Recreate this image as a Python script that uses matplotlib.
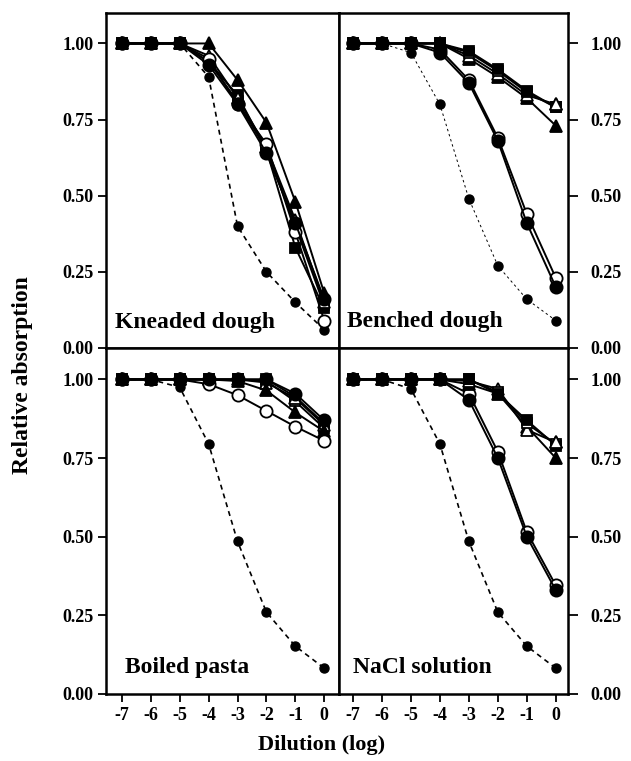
import matplotlib
matplotlib.use('Agg')
import matplotlib.pyplot as plt

plt.rcParams['font.family'] = ['Liberation Serif', 'DejaVu Serif']
plt.rcParams['font.weight'] = 'bold'

dilution = [-7, -6, -5, -4, -3, -2, -1, 0]
yticks = [0.0, 0.25, 0.5, 0.75, 1.0]
panel_titles = ["Kneaded dough", "Benched dough", "Boiled pasta", "NaCl solution"]

# Kneaded dough
kneaded_fc = [1, 1, 1, 0.93, 0.80, 0.64, 0.41, 0.16]
kneaded_oc = [1, 1, 1, 0.95, 0.80, 0.67, 0.38, 0.09]
kneaded_ft = [1, 1, 1, 1.00, 0.88, 0.74, 0.48, 0.18]
kneaded_ot = [1, 1, 1, 0.96, 0.82, 0.66, 0.42, 0.15]
kneaded_fs = [1, 1, 1, 0.94, 0.83, 0.65, 0.33, 0.13]
kneaded_os = [1, 1, 1, 0.94, 0.81, 0.65, 0.40, 0.14]
kneaded_ctrl = [1, 1, 1, 0.89, 0.40, 0.25, 0.15, 0.06]

# Benched dough
benched_fc = [1, 1, 1, 0.97, 0.87, 0.68, 0.41, 0.20]
benched_oc = [1, 1, 1, 0.98, 0.88, 0.69, 0.44, 0.23]
benched_ft = [1, 1, 1, 1.00, 0.95, 0.89, 0.82, 0.73]
benched_ot = [1, 1, 1, 1.00, 0.96, 0.90, 0.83, 0.80]
benched_fs = [1, 1, 1, 1.00, 0.975, 0.915, 0.845, 0.79]
benched_os = [1, 1, 1, 1.00, 0.97, 0.91, 0.84, 0.79]
benched_ctrl = [1, 1, 0.97, 0.80, 0.49, 0.27, 0.16, 0.09]

# Boiled pasta
boiled_fc = [1, 1, 1, 1, 1, 1, 0.955, 0.87]
boiled_oc = [1, 1, 1, 0.985, 0.95, 0.90, 0.85, 0.805]
boiled_ft = [1, 1, 1, 1, 0.995, 0.965, 0.895, 0.835]
boiled_ot = [1, 1, 1, 1, 1, 0.99, 0.94, 0.855]
boiled_fs = [1, 1, 1, 1, 1, 1, 0.945, 0.86]
boiled_os = [1, 1, 1, 1, 1, 0.995, 0.93, 0.845]
boiled_ctrl = [1, 1, 0.975, 0.795, 0.485, 0.26, 0.152, 0.082]

# NaCl solution
nacl_fc = [1, 1, 1, 1, 0.935, 0.75, 0.50, 0.33]
nacl_oc = [1, 1, 1, 1, 0.955, 0.77, 0.515, 0.345]
nacl_ft = [1, 1, 1, 1, 0.985, 0.955, 0.85, 0.75]
nacl_ot = [1, 1, 1, 1, 0.995, 0.97, 0.84, 0.80]
nacl_fs = [1, 1, 1, 1, 1.00, 0.955, 0.87, 0.79]
nacl_os = [1, 1, 1, 1, 1.00, 0.96, 0.86, 0.795]
nacl_ctrl = [1, 1, 0.97, 0.795, 0.485, 0.26, 0.152, 0.082]

panel_data = [
    (kneaded_fc, kneaded_oc, kneaded_ft, kneaded_ot, kneaded_fs, kneaded_os, kneaded_ctrl),
    (benched_fc, benched_oc, benched_ft, benched_ot, benched_fs, benched_os, benched_ctrl),
    (boiled_fc, boiled_oc, boiled_ft, boiled_ot, boiled_fs, boiled_os, boiled_ctrl),
    (nacl_fc, nacl_oc, nacl_ft, nacl_ot, nacl_fs, nacl_os, nacl_ctrl),
]

fig = plt.figure(figsize=(6.31, 7.61), dpi=100)

L, M, R = 106/631, 339/631, 568/631
T, MY, B = 1 - 13/761, 1 - 348/761, 1 - 694/761
rects = [
    [L, MY, M - L, T - MY],
    [M, MY, R - M, T - MY],
    [L, B, M - L, MY - B],
    [M, B, R - M, MY - B],
]
xlims = [(-7.55, 0.51), (-7.48, 0.42), (-7.55, 0.51), (-7.48, 0.42)]
text_pos = [(0.04, 0.06), (0.034, 0.064), (0.082, 0.061), (0.061, 0.06)]

for i, rect in enumerate(rects):
    ax = fig.add_axes(rect)
    fc, oc, ft, ot, fs, os_, ctrl = panel_data[i]
    ax.plot(dilution, ctrl, color='black',
            ls=(0, (3, 2.5)) if i != 1 else (0, (2.5, 3)),
            lw=1.2 if i != 1 else 0.7, marker='o', ms=6.5,
            mfc='black', mec='black', zorder=2)
    if i % 2 == 0:
        series = [
            (os_, 's', 'white'),
            (fs, 's', 'black'),
            (ot, '^', 'white'),
            (ft, '^', 'black'),
            (oc, 'o', 'white'),
            (fc, 'o', 'black'),
        ]
    else:
        series = [
            (oc, 'o', 'white'),
            (fc, 'o', 'black'),
            (ft, '^', 'black'),
            (ot, '^', 'white'),
            (os_, 's', 'white'),
            (fs, 's', 'black'),
        ]
    for vals, mk, face in series:
        size = 7.8 if mk == 's' else 8.8
        ax.plot(dilution, vals, color='black', lw=1.4, marker=mk, ms=size,
                mfc=face, mec='black', mew=1.3, zorder=3)
    if i % 2 == 1:
        # open triangle on top at the last dilution
        ax.plot(dilution, ot, ls='none', marker='^', ms=8.8, mfc='white',
                mec='black', mew=1.3, markevery=[len(dilution) - 1], zorder=4)
    ax.set_xlim(*xlims[i])
    ax.set_ylim(0, 1.10)
    ax.set_xticks(dilution)
    ax.set_yticks(yticks)
    for sp in ax.spines.values():
        sp.set_linewidth(1.8)
    ax.tick_params(axis='both', direction='out', length=6, width=1.3, labelsize=13)
    if i < 2:
        ax.tick_params(axis='x', labelbottom=False)
    else:
        ax.set_xticklabels([str(d) for d in dilution])
        ax.tick_params(axis='x', pad=3)
    if i % 2 == 0:
        ax.yaxis.tick_left()
        ax.tick_params(axis='y', pad=3)
    else:
        ax.yaxis.tick_right()
        ax.tick_params(axis='y', pad=9, length=7)
    ax.set_yticklabels(['0.00', '0.25', '0.50', '0.75', '1.00'])
    for lab in ax.get_xticklabels() + ax.get_yticklabels():
        lab.set_fontweight('bold')
    ax.text(text_pos[i][0], text_pos[i][1], panel_titles[i], transform=ax.transAxes,
            fontsize=17, fontweight='bold', ha='left', va='baseline')

fig.text(0.036, 0.507, 'Relative absorption', rotation=90, ha='center', va='center',
         fontsize=17, fontweight='bold')
fig.text(0.51, 0.021, 'Dilution (log)', ha='center', va='center',
         fontsize=16, fontweight='bold')

fig.savefig('out.png', dpi=100)
